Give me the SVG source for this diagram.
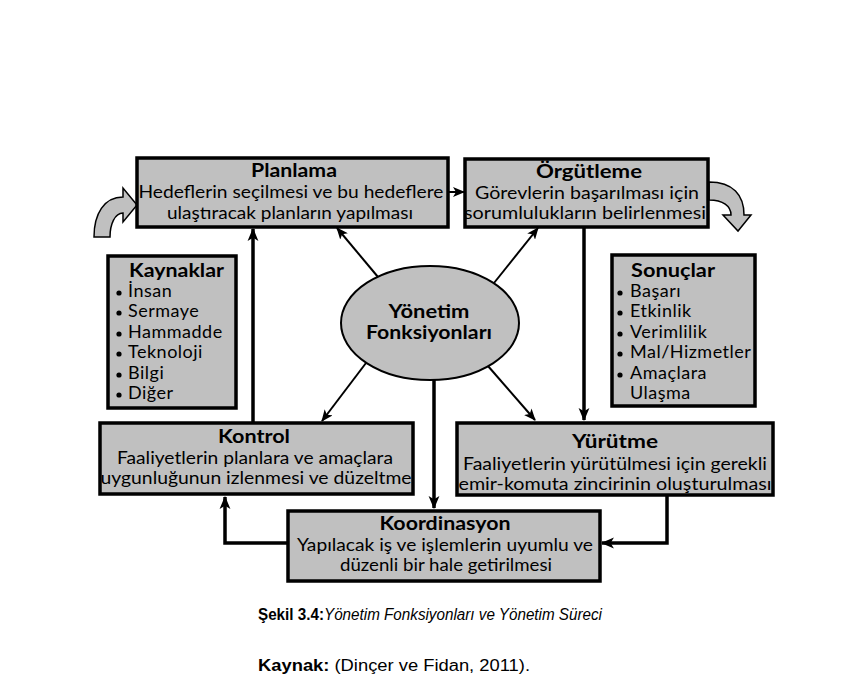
<svg xmlns="http://www.w3.org/2000/svg" width="849" height="694" viewBox="0 0 849 694">
  <style>
    .box { fill: #c0c0c0; stroke: #000; stroke-width: 3.5; }
    .oval { fill: #c0c0c0; stroke: #000; stroke-width: 2; }
    .bend { fill: #c0c0c0; stroke: #000; stroke-width: 1.5; stroke-linejoin: miter; }
    .t { font-family: "Lato", "Liberation Sans", sans-serif; font-size: 18px; fill: #000; }
    .li { letter-spacing: 0.5px; }
    .c { text-anchor: middle; }
    .b { font-weight: bold; }
    .thin { fill: none; stroke: #000; stroke-width: 2; }
    .thick { fill: none; stroke: #000; stroke-width: 3.5; }
    .cap { font-family: "Liberation Sans", Arial, sans-serif; font-size: 16px; fill: #000; }
  </style>
  <defs>
    <marker id="head" viewBox="0 0 12 10" refX="11" refY="5" markerWidth="12" markerHeight="10" markerUnits="userSpaceOnUse" orient="auto">
      <path d="M0,0 L12,5 L0,10 L3,5 Z" fill="#000"/>
    </marker>
    <marker id="headL" viewBox="0 0 12 10" refX="11" refY="5" markerWidth="13" markerHeight="12" markerUnits="userSpaceOnUse" orient="auto">
      <path d="M0,0 L12,5 L0,10 L3,5 Z" fill="#000"/>
    </marker>
  </defs>

  <!-- connectors -->
  <g id="connectors">
    <path class="thin" d="M448,192 H464" marker-end="url(#head)"/>
    <path class="thin" d="M378,277 L337,228" marker-end="url(#head)"/>
    <path class="thin" d="M494,283 L538,228" marker-end="url(#head)"/>
    <path class="thin" d="M366,363 L322,421" marker-end="url(#head)"/>
    <path class="thin" d="M488,366 L535,420" marker-end="url(#head)"/>
    <path class="thick" d="M434,380 V508" marker-end="url(#headL)"/>
    <path class="thick" d="M253,422 V229" marker-end="url(#headL)"/>
    <path class="thick" d="M584,228 V420" marker-end="url(#headL)"/>
    <path class="thick" d="M667,495 V543 H602" marker-end="url(#headL)"/>
    <path class="thick" d="M287,543 H225 V497" marker-end="url(#headL)"/>
  </g>

  <!-- curved flow arrows -->
  <g id="flow-in">
    <path class="bend" d="M94,237 C94,214 104,197 123,197 L123,188 L137,205 L123,222 L123,213 C115,213 110,224 110,237 Z"/>
  </g>
  <g id="flow-out">
    <path class="bend" d="M709,182 C733,182 744,195 744,215 L751,215 L738,231 L723,215 L731,215 C731,206 723,200 709,200 Z"/>
  </g>

  <g id="planlama">
    <rect class="box" x="137" y="158" width="311" height="69"/>
    <text class="t c b" x="294" y="177" textLength="86" lengthAdjust="spacingAndGlyphs">Planlama</text>
    <text class="t c" x="291" y="198" textLength="305" lengthAdjust="spacingAndGlyphs">Hedeflerin seçilmesi ve bu hedeflere</text>
    <text class="t c" x="290" y="219" textLength="246" lengthAdjust="spacingAndGlyphs">ulaştıracak planların yapılması</text>
  </g>

  <g id="orgutleme">
    <rect class="box" x="465" y="159" width="243" height="68"/>
    <text class="t c b" x="589" y="178" textLength="106" lengthAdjust="spacingAndGlyphs">Örgütleme</text>
    <text class="t c" x="587" y="199" textLength="224" lengthAdjust="spacingAndGlyphs">Görevlerin başarılması için</text>
    <text class="t c" x="585" y="219" textLength="242" lengthAdjust="spacingAndGlyphs">sorumlulukların belirlenmesi</text>
  </g>

  <g id="yonetim">
    <ellipse class="oval" cx="430" cy="323" rx="89" ry="57"/>
    <text class="t c b" x="429" y="318" textLength="81" lengthAdjust="spacingAndGlyphs">Yönetim</text>
    <text class="t c b" x="429" y="339" textLength="126" lengthAdjust="spacingAndGlyphs">Fonksiyonları</text>
  </g>

  <g id="kaynaklar">
    <rect class="box" x="108" y="256" width="128" height="152"/>
    <text class="t b" x="129" y="277" textLength="95" lengthAdjust="spacingAndGlyphs">Kaynaklar</text>
    <g fill="#000">
      <circle cx="119" cy="293" r="2.6"/>
      <circle cx="119" cy="313" r="2.6"/>
      <circle cx="119" cy="334" r="2.6"/>
      <circle cx="119" cy="354" r="2.6"/>
      <circle cx="119" cy="375" r="2.6"/>
      <circle cx="119" cy="395" r="2.6"/>
    </g>
    <text class="t li" x="128" y="297">İnsan</text>
    <text class="t li" x="128" y="317">Sermaye</text>
    <text class="t li" x="128" y="338">Hammadde</text>
    <text class="t li" x="128" y="358">Teknoloji</text>
    <text class="t li" x="128" y="379">Bilgi</text>
    <text class="t li" x="128" y="399">Diğer</text>
  </g>

  <g id="sonuclar">
    <rect class="box" x="612" y="255" width="143" height="151"/>
    <text class="t b" x="631" y="277" textLength="84" lengthAdjust="spacingAndGlyphs">Sonuçlar</text>
    <g fill="#000">
      <circle cx="620" cy="293" r="2.6"/>
      <circle cx="620" cy="313" r="2.6"/>
      <circle cx="620" cy="334" r="2.6"/>
      <circle cx="620" cy="354" r="2.6"/>
      <circle cx="620" cy="375" r="2.6"/>
    </g>
    <text class="t li" x="630" y="297">Başarı</text>
    <text class="t li" x="630" y="317">Etkinlik</text>
    <text class="t li" x="630" y="338">Verimlilik</text>
    <text class="t li" x="630" y="358">Mal/Hizmetler</text>
    <text class="t li" x="630" y="379">Amaçlara</text>
    <text class="t li" x="630" y="399">Ulaşma</text>
  </g>

  <g id="kontrol">
    <rect class="box" x="100" y="423" width="313" height="71"/>
    <text class="t c b" x="254" y="443" textLength="72" lengthAdjust="spacingAndGlyphs">Kontrol</text>
    <text class="t c" x="255" y="464" textLength="276" lengthAdjust="spacingAndGlyphs">Faaliyetlerin planlara ve amaçlara</text>
    <text class="t c" x="256" y="484" textLength="311" lengthAdjust="spacingAndGlyphs">uygunluğunun izlenmesi ve düzeltme</text>
  </g>

  <g id="yurutme">
    <rect class="box" x="457" y="423" width="316" height="72"/>
    <text class="t c b" x="615" y="448" textLength="86" lengthAdjust="spacingAndGlyphs">Yürütme</text>
    <text class="t c" x="615" y="470" textLength="304" lengthAdjust="spacingAndGlyphs">Faaliyetlerin yürütülmesi için gerekli</text>
    <text class="t c" x="615" y="490" textLength="313" lengthAdjust="spacingAndGlyphs">emir-komuta zincirinin oluşturulması</text>
  </g>

  <g id="koordinasyon">
    <rect class="box" x="288" y="511" width="312" height="70"/>
    <text class="t c b" x="445" y="530" textLength="131" lengthAdjust="spacingAndGlyphs">Koordinasyon</text>
    <text class="t c" x="445" y="551" textLength="296" lengthAdjust="spacingAndGlyphs">Yapılacak iş ve işlemlerin uyumlu ve</text>
    <text class="t c" x="446" y="571" textLength="212" lengthAdjust="spacingAndGlyphs">düzenli bir hale getirilmesi</text>
  </g>

  <g id="caption">
    <text class="cap" x="258" y="620" textLength="344" lengthAdjust="spacingAndGlyphs"><tspan font-weight="bold">Şekil 3.4:</tspan><tspan font-style="italic">Yönetim Fonksiyonları ve Yönetim Süreci</tspan></text>
    <text class="cap" x="258" y="671" textLength="272" lengthAdjust="spacingAndGlyphs"><tspan font-weight="bold">Kaynak:</tspan> (Dinçer ve Fidan, 2011).</text>
  </g>
</svg>
